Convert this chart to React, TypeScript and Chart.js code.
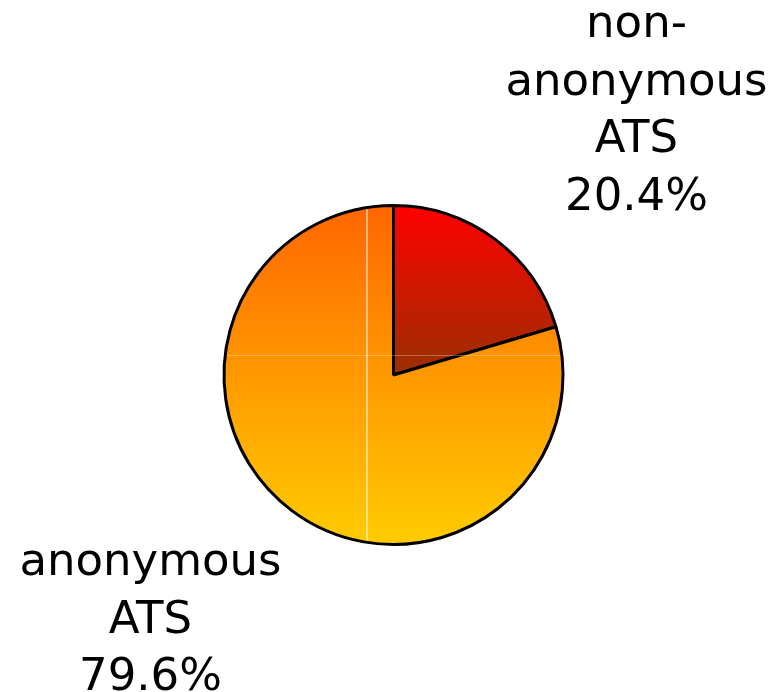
import React, { useEffect, useRef } from "react";
import { Chart, registerables } from "chart.js";

Chart.register(...registerables);

const categories = ["non-anonymous ATS", "anonymous ATS"];
const shares = [20.4, 79.6];
const labelLines = [
  ["non-", "anonymous", "ATS", "20.4%"],
  ["anonymous", "ATS", "79.6%"],
];
// label anchor (center x, first baseline) relative to pie centre
const labelAnchors = [
  { dx: 243, dy: -338 },
  { dx: -243, dy: 200 },
];

const FONT = '45px "DejaVu Sans", Verdana, sans-serif';
const LINE_H = 57.5;
const BORDER = 3;

function pieGeom(chart: any) {
  const a = chart.chartArea;
  const cx = (a.left + a.right) / 2;
  const cy = (a.top + a.bottom) / 2;
  const r = (Math.min(a.right - a.left, a.bottom - a.top) - BORDER) / 2;
  return { cx, cy, r };
}

const labelPlugin = {
  id: "outerLabels",
  afterDatasetsDraw(chart: any) {
    const ctx = chart.ctx;
    const { cx, cy, r } = pieGeom(chart);
    // faint tile seams seen in the reference
    ctx.save();
    ctx.beginPath();
    ctx.arc(cx, cy, r - 1.5, 0, Math.PI * 2);
    ctx.clip();
    ctx.fillStyle = "rgba(255,255,255,1)";
    ctx.fillRect(cx - 27, cy - r, 1, 2 * r);
    ctx.fillStyle = "rgba(255,255,255,0.3)";
    ctx.fillRect(cx - r, cy - 20, 2 * r, 1);
    ctx.restore();

    ctx.save();
    ctx.font = FONT;
    ctx.fillStyle = "#000";
    ctx.textAlign = "center";
    ctx.textBaseline = "alphabetic";
    labelLines.forEach((lines, i) => {
      const an = labelAnchors[i];
      lines.forEach((t, j) => {
        ctx.fillText(t, cx + an.dx, cy + an.dy + j * LINE_H);
      });
    });
    ctx.restore();
  },
};

export default function App() {
  const ref = useRef<HTMLCanvasElement>(null);
  useEffect(() => {
    document.body.style.margin = "0";
    const canvas = ref.current!;
    const chart = new Chart(canvas, {
      type: "pie",
      data: {
        labels: categories,
        datasets: [
          {
            data: shares,
            borderColor: "#000",
            borderWidth: BORDER,
            borderAlign: "center",
            backgroundColor: (c: any) => {
              const ch = c.chart;
              if (!ch.chartArea) return "#ff9900";
              const { cy, r } = pieGeom(ch);
              const g = ch.ctx.createLinearGradient(0, cy - r, 0, c.dataIndex === 0 ? cy : cy + r);
              if (c.dataIndex === 0) {
                g.addColorStop(0, "#ff0000");
                g.addColorStop(1, "#993000");
              } else {
                g.addColorStop(0, "#ff6600");
                g.addColorStop(1, "#ffcc00");
              }
              return g;
            },
          },
        ],
      },
      options: {
        animation: false,
        responsive: false,
        maintainAspectRatio: false,
        layout: { padding: { left: 222, right: 208, top: 204, bottom: 146 } },
        plugins: {
          legend: { display: false },
          tooltip: { enabled: false },
        },
      },
      plugins: [labelPlugin],
    });
    return () => chart.destroy();
  }, []);
  return (
    <div style={{ position: "absolute", left: 0, top: 0, width: 773, height: 692 }}>
      <canvas ref={ref} width={773} height={692} style={{ width: 773, height: 692 }} />
    </div>
  );
}
